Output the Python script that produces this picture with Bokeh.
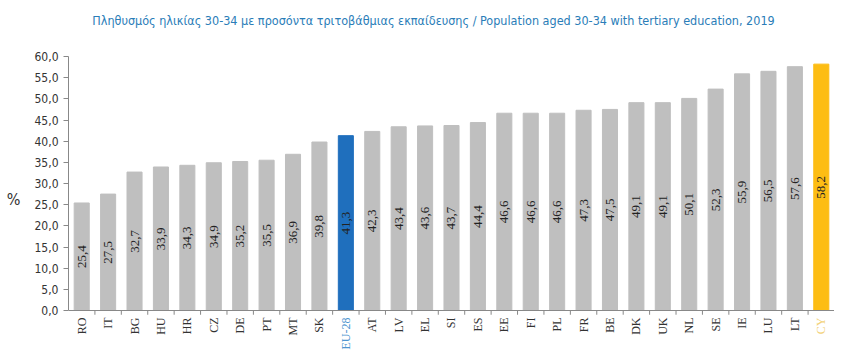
from bokeh.plotting import figure
from bokeh.models import ColumnDataSource, FixedTicker, LabelSet, Label, Range1d, Span
from bokeh.embed import file_html
from bokeh.resources import INLINE

codes = ["RO", "IT", "BG", "HU", "HR", "CZ", "DE", "PT", "MT", "SK", "EU-28", "AT", "LV",
         "EL", "SI", "ES", "EE", "FI", "PL", "FR", "BE", "DK", "UK", "NL", "SE", "IE",
         "LU", "LT", "CY"]
values = [25.4, 27.5, 32.7, 33.9, 34.3, 34.9, 35.2, 35.5, 36.9, 39.8, 41.3, 42.3, 43.4,
          43.6, 43.7, 44.4, 46.6, 46.6, 46.6, 47.3, 47.5, 49.1, 49.1, 50.1, 52.3, 55.9,
          56.5, 57.6, 58.2]
y_ticks = [0, 5, 10, 15, 20, 25, 30, 35, 40, 45, 50, 55, 60]
title_text = ("Πληθυσμός ηλικίας 30-34 με προσόντα τριτοβάθμιας εκπαίδευσης / "
              "Population aged 30-34 with tertiary education, 2019")

FONT = "DejaVu Sans Condensed"
GREY, BLUE, YELLOW = "#bfbfbf", "#1f6fbd", "#fdbd13"
AXIS = "#888888"

def fmt(v):
    return f"{v:.1f}".replace(".", ",")

n = len(codes)
idx = list(range(n))
bounds = [i + 0.5 for i in idx]
bar_colors = [BLUE if c == "EU-28" else YELLOW if c == "CY" else GREY for c in codes]
cat_colors = ["#4f95d0" if c == "EU-28" else "#f3d27a" if c == "CY" else "#333333" for c in codes]

src = ColumnDataSource(dict(
    x=idx, top=values, color=bar_colors, code=codes, ccolor=cat_colors,
    mid=[v / 2 for v in values], lab=[fmt(v) for v in values], zero=[0] * n,
))

# the frame spans the full height so that the title and category labels sit inside it
p = figure(width=834, height=352, output_backend="svg", toolbar_location=None,
           x_range=Range1d(-0.5, n - 0.5), y_range=Range1d(-9.92, 73.23),
           x_axis_location=None,
           min_border_left=68, min_border_right=0, min_border_bottom=0, min_border_top=0)

p.vbar(x="x", top="top", width=0.57, color="color", source=src)

# x axis line at zero and ticks between categories
p.add_layout(Span(location=0, dimension="width", line_color=AXIS, line_width=1))
p.segment(x0=bounds, y0=[0] * n, x1=bounds, y1=[-1.0] * n, line_color=AXIS, line_width=1)

p.add_layout(LabelSet(x="x", y="mid", text="lab", source=src, angle=1.5708,
                      text_align="center", text_baseline="middle", text_font=FONT,
                      text_font_size="13px", text_color="#222222"))

p.add_layout(LabelSet(x="x", y="zero", text="code", source=src, angle=1.5708, y_offset=-7,
                      text_align="right", text_baseline="middle", text_font=FONT,
                      text_font_size="12px", text_color="ccolor"))

p.add_layout(Label(x=(n - 1) / 2, y=60, x_offset=-18, y_offset=36, text=title_text,
                   text_align="center", text_baseline="middle", text_font=FONT,
                   text_font_size="12.5px", text_color="#2a7db8"))

p.xgrid.visible = False
p.ygrid.visible = False
p.outline_line_color = None

ya = p.yaxis[0]
ya.bounds = (0, 60)
ya.ticker = FixedTicker(ticks=y_ticks)
ya.major_label_overrides = {t: fmt(t) for t in y_ticks}
ya.major_label_text_font = FONT
ya.major_label_text_font_size = "12px"
ya.major_label_text_color = "#333333"
ya.major_tick_in = 0
ya.major_tick_out = 5
ya.major_tick_line_color = AXIS
ya.minor_tick_line_color = None
ya.axis_line_color = AXIS
ya.axis_label = "\n\n%"
ya.axis_label_orientation = "horizontal"
ya.axis_label_text_font = FONT
ya.axis_label_text_font_size = "16px"
ya.axis_label_text_font_style = "normal"
ya.axis_label_text_color = "#333333"
ya.axis_label_standoff = 11

open("out.html", "w").write(file_html(p, INLINE))
